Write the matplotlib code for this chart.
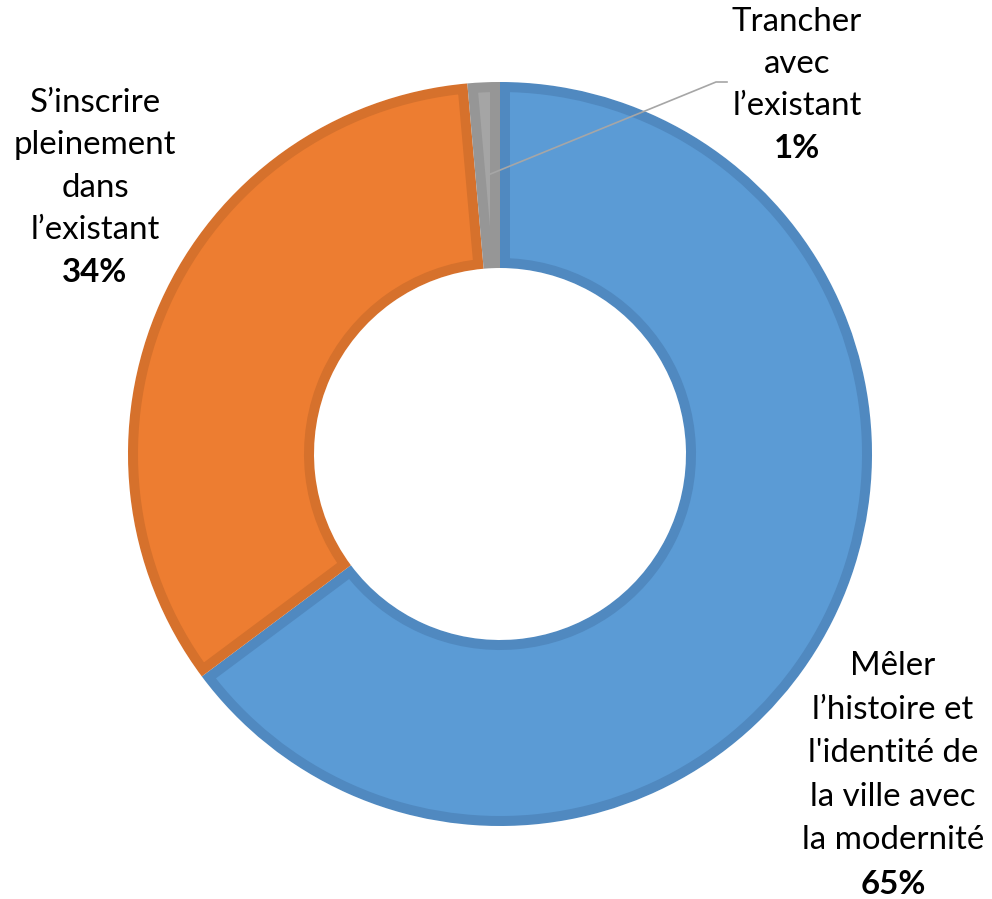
import matplotlib
matplotlib.use("Agg")
import matplotlib.pyplot as plt
from matplotlib.patches import PathPatch

# ---- data ----
categories = ["Mêler\nl’histoire et\nl'identité de\nla ville avec\nla modernité",
              "S’inscrire\npleinement\ndans\nl’existant",
              "Trancher\navec\nl’existant"]
values = [64.8, 33.8, 1.4]
pct_labels = ["65%", "34%", "1%"]
colors = ["#5B9BD5", "#ED7D31", "#A5A5A5"]
border_colors = ["#5089C0", "#D6712C", "#969696"]

W, H = 992, 899
fig = plt.figure(figsize=(W / 100, H / 100), dpi=100)
ax = fig.add_axes([0, 0, 1, 1])

cx, cy = 500, H - 454
R = 372
ring = 186

wedges, _ = ax.pie(values, colors=colors, startangle=90, counterclock=False,
                   radius=R, center=(cx, cy), frame=True,
                   wedgeprops=dict(width=ring, edgecolor="white", linewidth=1.0))

border_px = 10
lw = 2 * border_px * 72 / 100
for w, bc in zip(wedges, border_colors):
    p = PathPatch(w.get_path(), transform=ax.transData, facecolor="none",
                  edgecolor=bc, linewidth=lw, joinstyle="miter")
    p.set_clip_path(w)
    ax.add_patch(p)

ax.set_xlim(0, W)
ax.set_ylim(0, H)
ax.set_aspect("equal")
ax.axis("off")

font = "Lato"
fs = 23.8

def label(x, y0, step, name, pct):
    lines = name.split("\n")
    for i, ln in enumerate(lines):
        ax.text(x, H - (y0 + i * step), ln, ha="center", va="center",
                fontsize=fs, family=font, color="black")
    ax.text(x, H - (y0 + len(lines) * step), pct, ha="center", va="center",
            fontsize=fs, family=font, fontweight="bold", color="black")

label(893, 666, 43.6, categories[0], pct_labels[0])
label(95, 103, 42.3, categories[1], pct_labels[1])
label(797, 22, 42.0, categories[2], pct_labels[2])

# leader line for small slice
ax.plot([488, 716, 727], [H - 175, H - 82, H - 82], color="#A6A6A6", lw=1.2)

fig.savefig("out.png", dpi=100)
